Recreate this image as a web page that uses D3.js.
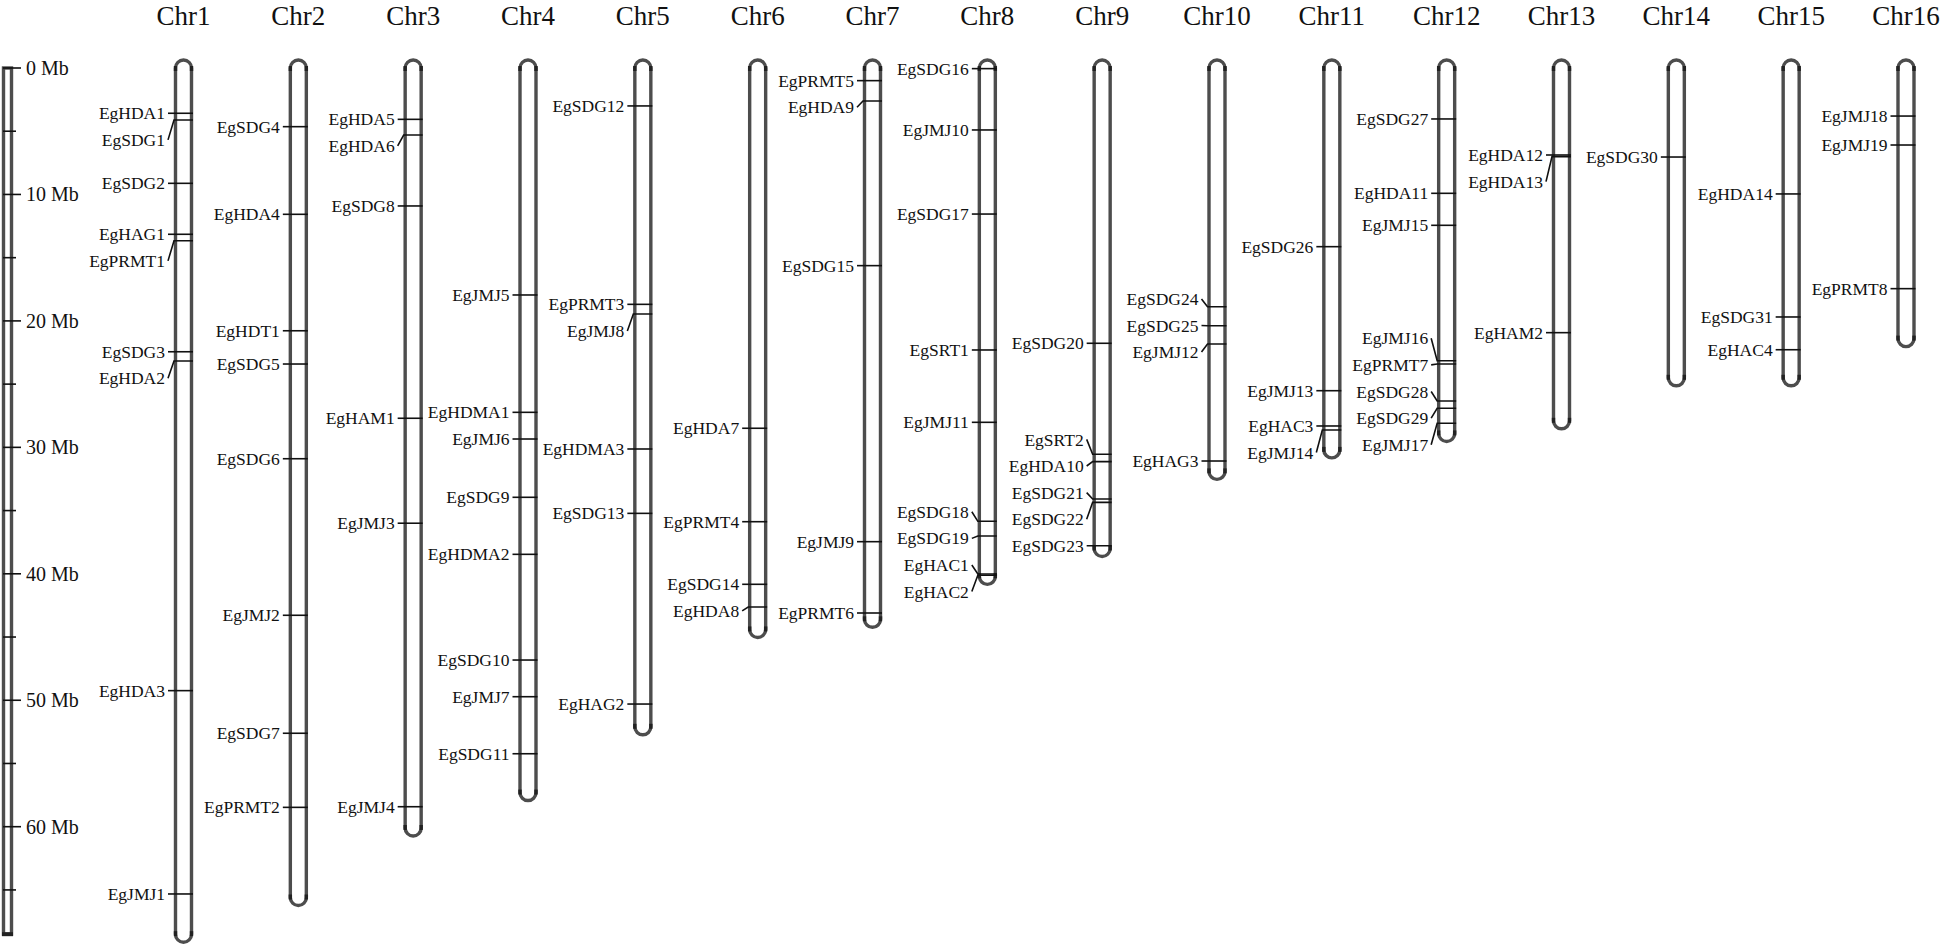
<!DOCTYPE html>
<html>
<head>
<meta charset="utf-8">
<script src="https://cdn.jsdelivr.net/npm/d3@7"></script>
<style>
  html, body { margin: 0; padding: 0; background: #fff; }
  svg { display: block; }
  text { font-family: "Liberation Serif", "Times New Roman", serif; fill: #111; }
</style>
</head>
<body>
<svg id="chart" width="1944" height="947"></svg>
<script>
// ---------------- DATA ----------------
const chromosomes = ["Chr1","Chr2","Chr3","Chr4","Chr5","Chr6","Chr7","Chr8",
                     "Chr9","Chr10","Chr11","Chr12","Chr13","Chr14","Chr15","Chr16"];
const chromLengthMb = [68.5, 65.6, 60.1, 57.3, 52.1, 44.4, 43.6, 40.2,
                       38.0, 31.9, 30.2, 28.9, 27.9, 24.5, 24.5, 21.4];

const geneNames = [
  "EgHDA1","EgSDG1","EgSDG2","EgHAG1","EgPRMT1","EgSDG3","EgHDA2","EgHDA3","EgJMJ1",
  "EgSDG4","EgHDA4","EgHDT1","EgSDG5","EgSDG6","EgJMJ2","EgSDG7","EgPRMT2",
  "EgHDA5","EgHDA6","EgSDG8","EgHAM1","EgJMJ3","EgJMJ4",
  "EgJMJ5","EgHDMA1","EgJMJ6","EgSDG9","EgHDMA2","EgSDG10","EgJMJ7","EgSDG11",
  "EgSDG12","EgPRMT3","EgJMJ8","EgHDMA3","EgSDG13","EgHAG2",
  "EgHDA7","EgPRMT4","EgSDG14","EgHDA8",
  "EgPRMT5","EgHDA9","EgSDG15","EgJMJ9","EgPRMT6",
  "EgSDG16","EgJMJ10","EgSDG17","EgSRT1","EgJMJ11","EgSDG18","EgSDG19","EgHAC1","EgHAC2",
  "EgSDG20","EgSRT2","EgHDA10","EgSDG21","EgSDG22","EgSDG23",
  "EgSDG24","EgSDG25","EgJMJ12","EgHAG3",
  "EgSDG26","EgJMJ13","EgHAC3","EgJMJ14",
  "EgSDG27","EgHDA11","EgJMJ15","EgJMJ16","EgPRMT7","EgSDG28","EgSDG29","EgJMJ17",
  "EgHDA12","EgHDA13","EgHAM2",
  "EgSDG30",
  "EgHDA14","EgSDG31","EgHAC4",
  "EgJMJ18","EgJMJ19","EgPRMT8"
];
const geneChrom = [
  "Chr1","Chr1","Chr1","Chr1","Chr1","Chr1","Chr1","Chr1","Chr1",
  "Chr2","Chr2","Chr2","Chr2","Chr2","Chr2","Chr2","Chr2",
  "Chr3","Chr3","Chr3","Chr3","Chr3","Chr3",
  "Chr4","Chr4","Chr4","Chr4","Chr4","Chr4","Chr4","Chr4",
  "Chr5","Chr5","Chr5","Chr5","Chr5","Chr5",
  "Chr6","Chr6","Chr6","Chr6",
  "Chr7","Chr7","Chr7","Chr7","Chr7",
  "Chr8","Chr8","Chr8","Chr8","Chr8","Chr8","Chr8","Chr8","Chr8",
  "Chr9","Chr9","Chr9","Chr9","Chr9","Chr9",
  "Chr10","Chr10","Chr10","Chr10",
  "Chr11","Chr11","Chr11","Chr11",
  "Chr12","Chr12","Chr12","Chr12","Chr12","Chr12","Chr12","Chr12",
  "Chr13","Chr13","Chr13",
  "Chr14",
  "Chr15","Chr15","Chr15",
  "Chr16","Chr16","Chr16"
];
const genePosMb = [
  3.58, 4.11, 9.12, 13.15, 13.66, 22.44, 23.17, 49.24, 65.32,
  4.64, 11.57, 20.78, 23.41, 30.90, 43.28, 52.61, 58.47,
  4.06, 5.30, 10.91, 27.70, 36.00, 58.42,
  17.95, 27.23, 29.34, 33.95, 38.46, 46.82, 49.72, 54.23,
  3.00, 18.69, 19.45, 30.13, 35.22, 50.30,
  28.49, 35.88, 40.83, 42.63,
  1.00, 2.61, 15.63, 37.46, 43.10,
  0.05, 4.90, 11.55, 22.30, 28.02, 35.85, 37.01, 40.02, 40.12,
  21.77, 30.55, 31.13, 34.09, 34.35, 37.78,
  18.88, 20.38, 21.83, 31.08,
  14.13, 25.52, 28.31, 28.63,
  4.03, 9.91, 12.44, 23.15, 23.41, 26.33, 26.91, 28.10,
  6.88, 7.01, 20.93,
  7.04,
  9.96, 19.69, 22.28,
  3.80, 6.09, 17.45
];

const scaleTicksMb = [0,5,10,15,20,25,30,35,40,45,50,55,60,65];
const scaleLabelsMb = [0,10,20,30,40,50,60];
const scaleMaxMb = 68.5;

// ---------------- LAYOUT ----------------
const svg = d3.select("#chart");
const y = d3.scaleLinear().domain([0, 70]).range([68, 68 + 70 * 12.645]);
const x = d3.scalePoint().domain(chromosomes).range([183.5, 1906]);

const HW = 8;          // half width of chromosome (stroke centerline)
const LABEL_GAP = 26.6;
const outline = "#4d4d4d";

// ---- scale bar ----
const sb = svg.append("g").attr("class", "scalebar");
sb.append("rect")
  .attr("x", 3.5).attr("y", y(0))
  .attr("width", 8).attr("height", y(scaleMaxMb) - y(0))
  .attr("fill", "#fff").attr("stroke", outline).attr("stroke-width", 3.4);
sb.append("line")
  .attr("x1", 2).attr("x2", 13)
  .attr("y1", y(scaleMaxMb)).attr("y2", y(scaleMaxMb))
  .attr("stroke", "#222").attr("stroke-width", 4);
sb.selectAll("line.tick").data(scaleTicksMb).enter().append("line")
  .attr("class", "tick")
  .attr("x1", 3)
  .attr("x2", d => scaleLabelsMb.includes(d) ? 21 : 16)
  .attr("y1", d => y(d)).attr("y2", d => y(d))
  .attr("stroke", "#111").attr("stroke-width", 1.6);
sb.selectAll("text").data(scaleLabelsMb).enter().append("text")
  .attr("x", 26).attr("y", d => y(d))
  .attr("dy", "0.35em")
  .attr("font-size", 20)
  .text(d => d + " Mb");

// ---- titles ----
svg.selectAll("text.title").data(chromosomes).enter().append("text")
  .attr("class", "title")
  .attr("x", d => x(d)).attr("y", 25)
  .attr("text-anchor", "middle")
  .attr("font-size", 27)
  .text(d => d);

// ---- chromosomes ----
const chromData = chromosomes.map((c, i) => ({ name: c, len: chromLengthMb[i] }));
const cg = svg.append("g").attr("class", "chroms");
chromData.forEach(c => {
  const cx = x(c.name), y0 = y(0), y1 = y(c.len);
  const p = `M${cx - HW},${y0} L${cx - HW},${y1} A${HW},${HW} 0 0 0 ${cx + HW},${y1} ` +
            `L${cx + HW},${y0} A${HW},${HW} 0 0 0 ${cx - HW},${y0} Z`;
  cg.append("path").attr("d", p)
    .attr("fill", "#fff").attr("stroke", outline).attr("stroke-width", 3.4);
  // dark junction marks where the caps meet the body
  [[y0 - 2, y0 + 3], [y1 - 3, y1 + 2]].forEach(([a, b]) => {
    [-HW, HW].forEach(dx => {
      cg.append("line")
        .attr("x1", cx + dx).attr("x2", cx + dx)
        .attr("y1", a).attr("y2", b)
        .attr("stroke", "#222").attr("stroke-width", 3.4);
    });
  });
});

// ---- genes ----
const genes = geneNames.map((n, i) => ({ name: n, chr: geneChrom[i], pos: genePosMb[i] }));
const mg = svg.append("g").attr("class", "markers");

chromosomes.forEach(chr => {
  const gs = genes.filter(g => g.chr === chr).sort((a, b) => a.pos - b.pos);
  if (!gs.length) return;
  gs.forEach(g => { g.my = y(g.pos); });
  // greedy top-down to find chains of colliding labels
  const chains = [];
  gs.forEach((g, i) => {
    if (i > 0 && g.my < gs[i - 1].ly + LABEL_GAP) {
      g.ly = gs[i - 1].ly + LABEL_GAP;
      chains[chains.length - 1].push(g);
    } else {
      g.ly = g.my;
      chains.push([g]);
    }
  });
  // longer chains are centred on their markers
  chains.forEach(ch => {
    if (ch.length >= 3) {
      const m = d3.mean(ch, g => g.my);
      ch.forEach((g, j) => { g.ly = m + (j - (ch.length - 1) / 2) * LABEL_GAP; });
    }
  });
  const cx = x(chr);
  gs.forEach(g => {
    mg.append("path")
      .attr("d", `M${cx - 15.5},${g.ly} L${cx - HW - 1.5},${g.my} L${cx + HW + 1.5},${g.my}`)
      .attr("fill", "none").attr("stroke", "#111").attr("stroke-width", 1.6);
    mg.append("text")
      .attr("x", cx - 18.5).attr("y", g.ly)
      .attr("dy", "0.35em")
      .attr("text-anchor", "end")
      .attr("font-size", 17.5)
      .text(g.name);
  });
});
</script>
</body>
</html>
